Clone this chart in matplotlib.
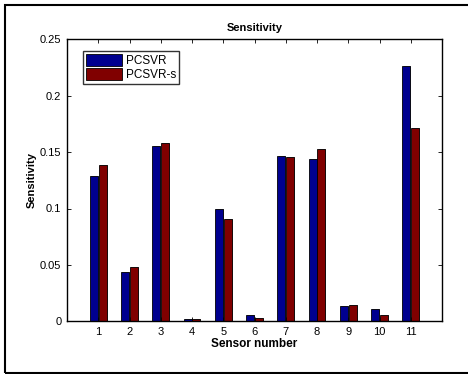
import matplotlib
matplotlib.use("Agg")
import matplotlib.pyplot as plt
from matplotlib.patches import Rectangle
import numpy as np

sensors = [1, 2, 3, 4, 5, 6, 7, 8, 9, 10, 11]
pcsvr = [0.1288, 0.0434, 0.1557, 0.0020, 0.0993, 0.0056, 0.1466, 0.1439, 0.0136, 0.0109, 0.2264]
pcsvr_s = [0.1383, 0.0485, 0.1578, 0.0020, 0.0907, 0.0030, 0.1457, 0.1528, 0.0142, 0.0059, 0.1711]
yticks = [0, 0.05, 0.1, 0.15, 0.2, 0.25]
ytick_labels = ["0", "0.05", "0.1", "0.15", "0.2", "0.25"]

plt.rcParams['font.family'] = ['Liberation Sans', 'DejaVu Sans']

fig = plt.figure(figsize=(4.68, 3.74), dpi=100)
fig.patch.set_facecolor('white')
# outer border
fig.patches.append(Rectangle((5/468, 1/374), 2.0, 368/374, transform=fig.transFigure,
                             fill=False, edgecolor='black', linewidth=1.5, zorder=0))

ax = fig.add_axes([67/468, 1-321.3/374, (442-67)/468, (321.3-39.3)/374])

x = np.array(sensors, dtype=float)
w = 0.25
off = 0.14
shadow = 0.035
blue = '#00008f'
red = '#800000'
ax.bar(x - off + shadow, pcsvr, width=w, color='#a0a0a0', edgecolor='none', zorder=1)
ax.bar(x + off + shadow, pcsvr_s, width=w, color='#a0a0a0', edgecolor='none', zorder=1)
ax.bar(x - off, pcsvr, width=w, color=blue, edgecolor='black', linewidth=0.6, label='PCSVR', zorder=2)
ax.bar(x + off, pcsvr_s, width=w, color=red, edgecolor='black', linewidth=0.6, label='PCSVR-s', zorder=2)

ax.set_xlim(0, 12)
ax.set_ylim(0, 0.25)
ax.set_xticks(sensors)
ax.set_xticklabels([str(s) for s in sensors], fontsize=8)
ax.set_yticks(yticks)
ax.set_yticklabels(ytick_labels, fontsize=8)
ax.tick_params(direction='in', length=3, width=0.6, top=True, right=True, pad=4)
for s in ax.spines.values():
    s.set_linewidth(1.0)
    s.set_color('black')

ax.set_title('Sensitivity', fontsize=8, fontweight='bold', pad=6)
ax.set_xlabel('Sensor number', fontsize=8.5, fontweight='bold', labelpad=1)
ax.set_ylabel('Sensitivity', fontsize=8, fontweight='bold', labelpad=2)

leg = ax.legend(loc='upper left', bbox_to_anchor=(0.042, 0.96), fontsize=8.5, frameon=True,
                fancybox=False, edgecolor='black', handlelength=3.1, handleheight=1.2,
                borderpad=0.25, labelspacing=0.15, handletextpad=0.3, borderaxespad=0)
leg.get_frame().set_linewidth(1.0)

fig.savefig('out.png', dpi=100)
